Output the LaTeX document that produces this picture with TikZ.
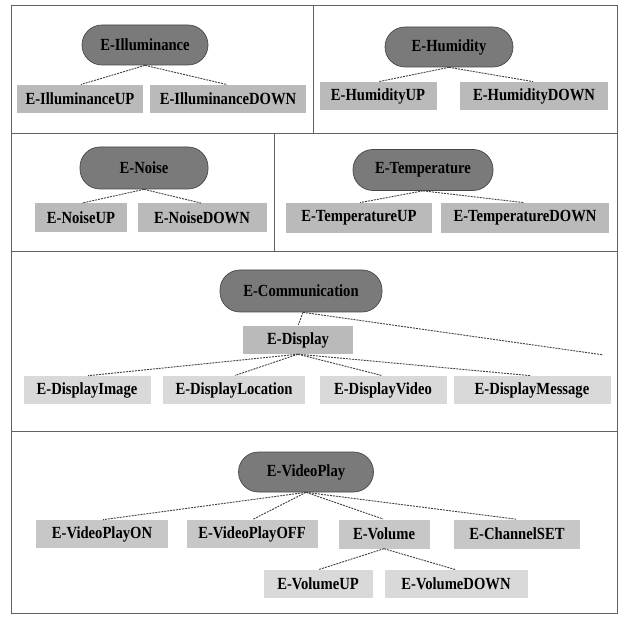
\documentclass[tikz,border=0pt]{standalone}
\usepackage{fontspec}
\setmainfont{Liberation Serif}
\newfontfamily\lblfont[FakeStretch=0.86]{Liberation Serif}
\begin{document}
\begin{tikzpicture}[x=1pt,y=-1pt,
  lbl/.style={font=\lblfont\fontsize{17}{19}\selectfont\bfseries, text=black},
  root/.style={lbl, draw=black!72, line width=0.7pt, fill=black!52, rounded corners=20pt, minimum height=40pt, inner sep=0pt},
  leaf/.style={lbl, fill=black!27, minimum height=28pt, inner sep=0pt},
  leafmid/.style={leaf, fill=black!22},
  leaflight/.style={leaf, fill=black!15},
  link/.style={draw=black!75, line width=0.9pt, dash pattern=on 2pt off 1pt, shorten >=1pt},
  frame/.style={draw=black!62, line width=0.9pt}]
\useasboundingbox (0,0) rectangle (621,617);
\fill[white] (0,0) rectangle (621,617);
% frame
\draw[frame] (11,5) rectangle (617,613);
\draw[frame] (11,133) -- (617,133);
\draw[frame] (11,251) -- (617,251);
\draw[frame] (11,431) -- (617,431);
\draw[frame] (313,5) -- (313,133);
\draw[frame] (274,133) -- (274,251);
% Illuminance
\node[root, minimum width=126pt] (ill) at (145,45) {E-Illuminance};
\node[leaf, minimum width=126pt] (illup) at (80,99) {E-IlluminanceUP};
\node[leaf, minimum width=156pt] (illdn) at (228,99) {E-IlluminanceDOWN};
% Humidity
\node[root, minimum width=128pt] (hum) at (449,47) {E-Humidity};
\node[leaf, minimum width=117pt] (humup) at (378,96) {E-HumidityUP};
\node[leaf, minimum width=148pt] (humdn) at (534,96) {E-HumidityDOWN};
% Noise
\node[root, minimum width=128pt, minimum height=42pt] (noi) at (144,168) {E-Noise};
\node[leaf, minimum width=92pt, minimum height=29pt] (noiup) at (81,218) {E-NoiseUP};
\node[leaf, minimum width=129pt, minimum height=29pt] (noidn) at (202,218) {E-NoiseDOWN};
% Temperature
\node[root, minimum width=140pt, minimum height=41pt] (tem) at (423,170) {E-Temperature};
\node[leaf, minimum width=146pt, minimum height=30pt] (temup) at (359,218) {E-TemperatureUP};
\node[leaf, minimum width=168pt, minimum height=30pt] (temdn) at (525,218) {E-TemperatureDOWN};
% Communication
\node[root, minimum width=162pt, minimum height=42pt] (com) at (301,291) {E-Communication};
\node[leaf, minimum width=110pt] (dis) at (298,340) {E-Display};
\node[leaflight, minimum width=127pt] (dimg) at (87,390) {E-DisplayImage};
\node[leaflight, minimum width=142pt] (dloc) at (234,390) {E-DisplayLocation};
\node[leaflight, minimum width=127pt] (dvid) at (383,390) {E-DisplayVideo};
\node[leaflight, minimum width=157pt] (dmsg) at (532,390) {E-DisplayMessage};
\coordinate (comend) at (604,355);
% VideoPlay
\node[root, minimum width=135pt] (vp) at (306,472) {E-VideoPlay};
\node[leafmid, minimum width=132pt] (vpon) at (102,534) {E-VideoPlayON};
\node[leafmid, minimum width=131pt] (vpoff) at (252,534) {E-VideoPlayOFF};
\node[leafmid, minimum width=91pt, minimum height=29pt] (vol) at (384,534) {E-Volume};
\node[leafmid, minimum width=126pt, minimum height=29pt] (chs) at (517,534) {E-ChannelSET};
\node[leaflight, minimum width=109pt] (volup) at (318,584) {E-VolumeUP};
\node[leaflight, minimum width=143pt] (voldn) at (456,584) {E-VolumeDOWN};
% connectors
\draw[link] (ill.south) -- (illup.north);
\draw[link] (ill.south) -- (illdn.north);
\draw[link] (hum.south) -- (humup.north);
\draw[link] (hum.south) -- (humdn.north);
\draw[link] (noi.south) -- (noiup.north);
\draw[link] (noi.south) -- (noidn.north);
\draw[link] (tem.south) -- (temup.north);
\draw[link] (tem.south) -- (temdn.north);
\draw[link] ([xshift=2pt]com.south) -- (dis.north);
\draw[link] ([xshift=2pt]com.south) -- (comend);
\draw[link] (dis.south) -- (dimg.north);
\draw[link] (dis.south) -- (dloc.north);
\draw[link] (dis.south) -- (dvid.north);
\draw[link] (dis.south) -- (dmsg.north);
\draw[link] (vp.south) -- (vpon.north);
\draw[link] (vp.south) -- (vpoff.north);
\draw[link] (vp.south) -- (vol.north);
\draw[link] (vp.south) -- (chs.north);
\draw[link] (vol.south) -- (volup.north);
\draw[link] (vol.south) -- (voldn.north);
\end{tikzpicture}
\end{document}
